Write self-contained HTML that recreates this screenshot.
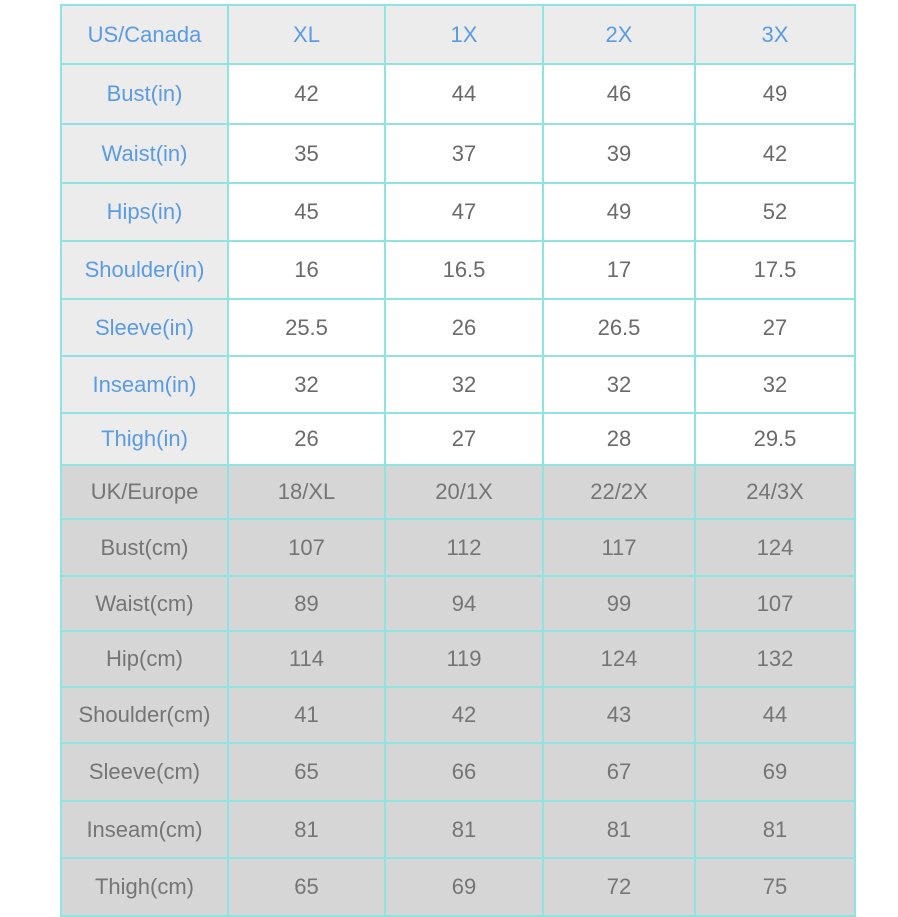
<!DOCTYPE html>
<html><head><meta charset="utf-8"><style>
html,body{margin:0;padding:0;background:#fff;width:898px;height:915px;overflow:hidden}
table{position:absolute;left:60px;top:4px;border-collapse:collapse;table-layout:fixed;font-family:"Liberation Sans",sans-serif;font-size:22px}
td{border:2px solid #8fe3e1;text-align:center;padding:0;color:#6a6a6a;overflow:hidden;white-space:nowrap}
tr.us td{background:#fff}
tr.us td:first-child,tr.h td{background:#ececec;color:#5b9be3}
tr.h td{background:#ececec}
tr.uk td{background:#d6d6d6;color:#757575}
</style></head><body>
<table>
<colgroup><col style="width:167px"><col style="width:157px"><col style="width:158px"><col style="width:152px"><col style="width:160px"></colgroup>
<tr class="h" style="height:59px"><td>US/Canada</td><td>XL</td><td>1X</td><td>2X</td><td>3X</td></tr>
<tr class="us" style="height:60px"><td>Bust(in)</td><td>42</td><td>44</td><td>46</td><td>49</td></tr>
<tr class="us" style="height:59px"><td>Waist(in)</td><td>35</td><td>37</td><td>39</td><td>42</td></tr>
<tr class="us" style="height:58px"><td>Hips(in)</td><td>45</td><td>47</td><td>49</td><td>52</td></tr>
<tr class="us" style="height:58px"><td>Shoulder(in)</td><td>16</td><td>16.5</td><td>17</td><td>17.5</td></tr>
<tr class="us" style="height:57px"><td>Sleeve(in)</td><td>25.5</td><td>26</td><td>26.5</td><td>27</td></tr>
<tr class="us" style="height:57px"><td>Inseam(in)</td><td>32</td><td>32</td><td>32</td><td>32</td></tr>
<tr class="us" style="height:52px"><td>Thigh(in)</td><td>26</td><td>27</td><td>28</td><td>29.5</td></tr>
<tr class="uk" style="height:54px"><td>UK/Europe</td><td>18/XL</td><td>20/1X</td><td>22/2X</td><td>24/3X</td></tr>
<tr class="uk" style="height:57px"><td>Bust(cm)</td><td>107</td><td>112</td><td>117</td><td>124</td></tr>
<tr class="uk" style="height:55px"><td>Waist(cm)</td><td>89</td><td>94</td><td>99</td><td>107</td></tr>
<tr class="uk" style="height:56px"><td>Hip(cm)</td><td>114</td><td>119</td><td>124</td><td>132</td></tr>
<tr class="uk" style="height:56px"><td>Shoulder(cm)</td><td>41</td><td>42</td><td>43</td><td>44</td></tr>
<tr class="uk" style="height:58px"><td>Sleeve(cm)</td><td>65</td><td>66</td><td>67</td><td>69</td></tr>
<tr class="uk" style="height:57px"><td>Inseam(cm)</td><td>81</td><td>81</td><td>81</td><td>81</td></tr>
<tr class="uk" style="height:58px"><td>Thigh(cm)</td><td>65</td><td>69</td><td>72</td><td>75</td></tr>
</table>
</body></html>
